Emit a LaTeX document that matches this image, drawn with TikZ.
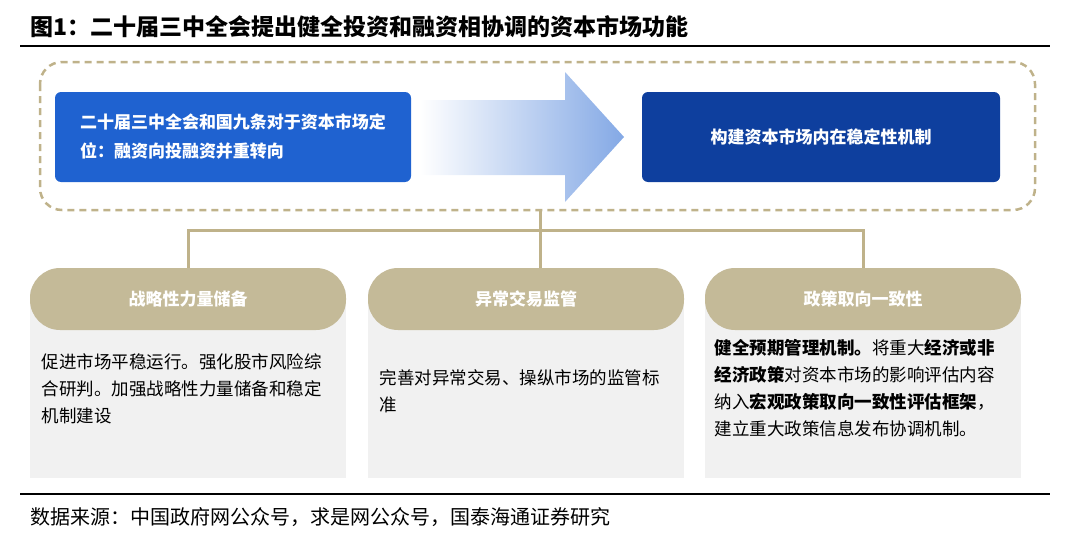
\documentclass[tikz,border=0pt]{standalone}
\usepackage{fontspec}
\setmainfont{Noto Sans CJK SC}
\definecolor{tan}{HTML}{C4BA98}
\definecolor{dtan}{HTML}{BFB28A}
\definecolor{bluea}{HTML}{1F62D0}
\definecolor{blueb}{HTML}{0E3F9E}
\definecolor{grayb}{HTML}{F1F1F1}
\tikzset{
 hdr/.style={fill=tan,rounded corners=30pt,minimum width=316pt,minimum height=62pt},
 htxt/.style={text=white,font=\bfseries\fontsize{17}{19}\selectfont},
 body/.style={fill=grayb,minimum width=316pt,minimum height=188pt},
 btxt/.style={align=left,font=\fontsize{17.5}{27}\selectfont,anchor=north west},
 conn/.style={draw=dtan,line width=3pt},
}
\begin{document}
\begin{tikzpicture}[x=1pt,y=-1pt]
\useasboundingbox (0,0) rectangle (1080,538);
\node[anchor=west,font=\bfseries\fontsize{23}{25}\selectfont,inner sep=0pt] (title) at (30,27) {图1：二十届三中全会提出健全投资和融资相协调的资本市场功能};
\draw[line width=1.2pt] (20,46) -- (1050,46);
\draw[dtan,line width=2.5pt,dash pattern=on 7pt off 5pt,rounded corners=22pt] (40,62) rectangle (1035,210);
\coordinate (dbot) at (540,210);
\shade[left color=white,right color=bluea!55] (420,100) -- (565,100) -- (565,72) -- (624,137) -- (565,202) -- (565,175) -- (420,175) -- cycle;
\node[fill=bluea,rounded corners=6pt,minimum width=356pt,minimum height=90pt,text=white,font=\bfseries\fontsize{17}{29}\selectfont,align=left] (left) at (233,137) {二十届三中全会和国九条对于资本市场定\\位：融资向投融资并重转向};
\node[fill=blueb,rounded corners=6pt,minimum width=358pt,minimum height=90pt,text=white,font=\bfseries\fontsize{17}{19}\selectfont] (right) at (821,137) {构建资本市场内在稳定性机制};
\foreach \i/\x in {a/188,b/526,c/863}{
 \node[body] (b\i) at (\x,384) {};
 \node[hdr] (h\i) at (\x,299) {};
}
\node[htxt] at (ha) {战略性力量储备};
\node[htxt] at (hb) {异常交易监管};
\node[htxt] at (hc) {政策取向一致性};
\coordinate (j) at (540,230);
\draw[conn] (dbot) -- (j);
\draw[conn] (ha.north) -- (188,230) -- (863,230) -- (hc.north);
\draw[conn] (j) -- (hb.north -| j);
\node[btxt] at (38,350) {促进市场平稳运行。强化股市风险综\\合研判。加强战略性力量储备和稳定\\机制建设};
\node[btxt] at (376,366) {完善对异常交易、操纵市场的监管标\\准};
\node[btxt] at (711,336) {\textbf{健全预期管理机制。}将重大\textbf{经济或非}\\\textbf{经济政策}对资本市场的影响评估内容\\纳入\textbf{宏观政策取向一致性评估框架}，\\建立重大政策信息发布协调机制。};
\draw[line width=1.2pt] (20,494) -- (1050,494);
\node[anchor=west,font=\fontsize{20}{22}\selectfont,inner sep=0pt] (src) at (30,517) {数据来源：中国政府网公众号，求是网公众号，国泰海通证券研究};
\end{tikzpicture}
\end{document}
